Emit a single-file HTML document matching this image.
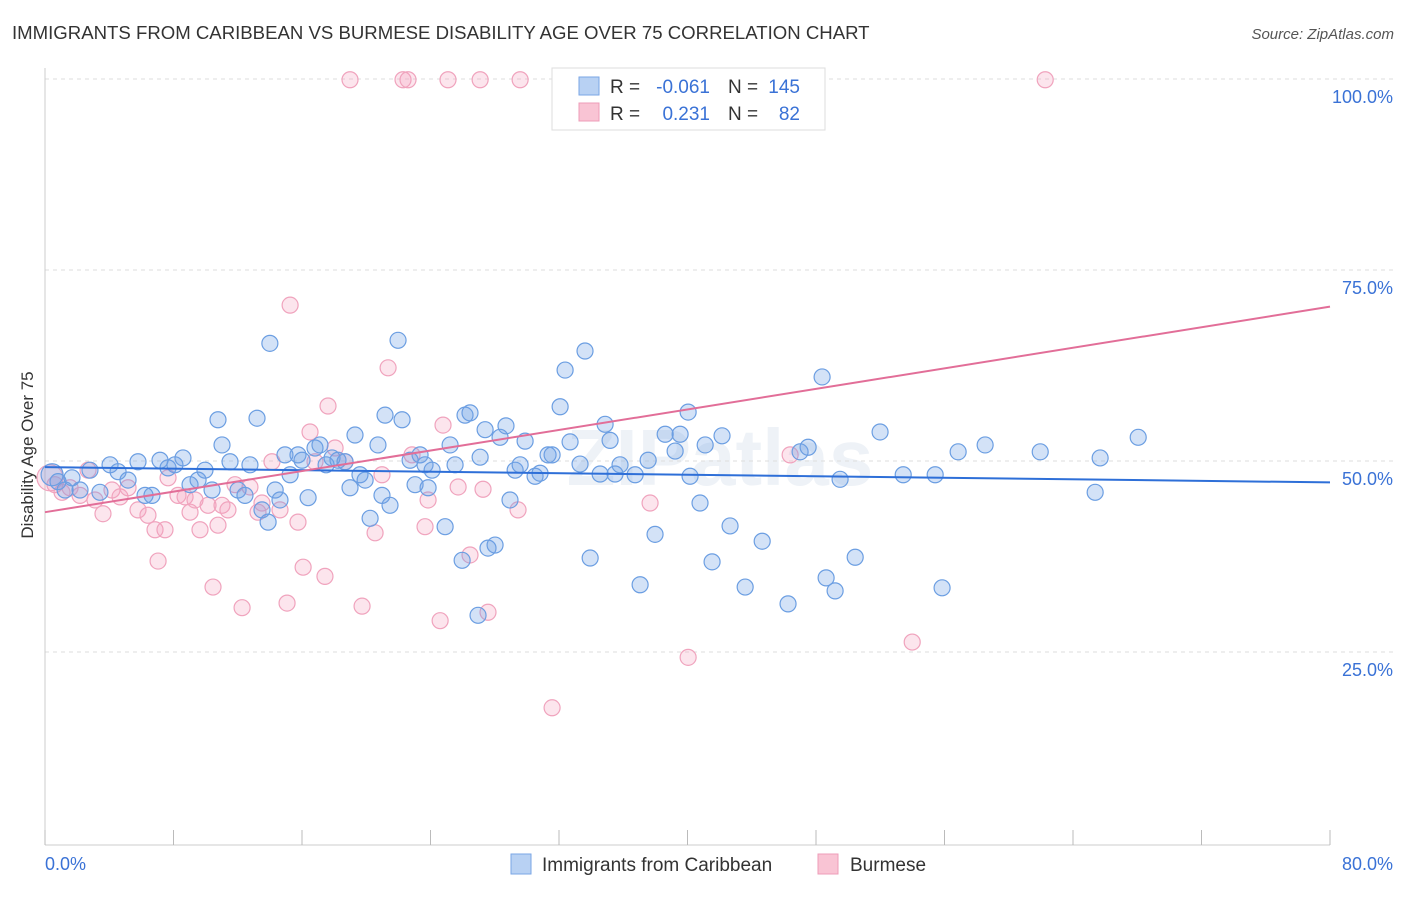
<!DOCTYPE html>
<html><head><meta charset="utf-8"><style>
body{margin:0;background:#fff;font-family:"Liberation Sans",sans-serif;}
svg text{font-family:"Liberation Sans",sans-serif;}
</style></head><body>
<svg id="chart" width="1406" height="892" viewBox="0 0 1406 892">
<text x="12" y="39" font-size="18.6" fill="#333">IMMIGRANTS FROM CARIBBEAN VS BURMESE DISABILITY AGE OVER 75 CORRELATION CHART</text>
<text x="1394" y="39" font-size="15" fill="#555" font-style="italic" text-anchor="end">Source: ZipAtlas.com</text>
<text x="720" y="485" font-size="80" fill="#eef2f7" text-anchor="middle" font-weight="bold">ZIPatlas</text>
<g id="grid"></g>
<g id="axes"></g>
<text transform="translate(33,455) rotate(-90)" font-size="17" fill="#333" text-anchor="middle">Disability Age Over 75</text>
<g id="pts"></g>
<g id="trends"></g>
<g>
<rect x="552" y="68" width="273" height="62" fill="#fff" stroke="#ddd"/>
<rect x="579" y="77" width="20" height="18" fill="#b8d1f3" stroke="#7aa6e6"/>
<rect x="579" y="103" width="20" height="18" fill="#f9c4d4" stroke="#ee9cb8"/>
<text x="610" y="93" font-size="19" fill="#333">R =</text>
<text x="710" y="93" font-size="19" fill="#3a72d6" text-anchor="end">-0.061</text>
<text x="728" y="93" font-size="19" fill="#333">N =</text>
<text x="800" y="93" font-size="19" fill="#3a72d6" text-anchor="end">145</text>
<text x="610" y="120" font-size="19" fill="#333">R =</text>
<text x="710" y="120" font-size="19" fill="#3a72d6" text-anchor="end">0.231</text>
<text x="728" y="120" font-size="19" fill="#333">N =</text>
<text x="800" y="120" font-size="19" fill="#3a72d6" text-anchor="end">82</text>
</g>
<g>
<rect x="511" y="854" width="20" height="20" fill="#b8d1f3" stroke="#7aa6e6"/>
<text x="542" y="871" font-size="19" fill="#333">Immigrants from Caribbean</text>
<rect x="818" y="854" width="20" height="20" fill="#f9c4d4" stroke="#ee9cb8"/>
<text x="850" y="871" font-size="19" fill="#333">Burmese</text>
</g>
</svg>
<script>
const blueX=[0.44,0.81,1.25,1.68,2.18,2.8,3.42,4.05,4.55,5.17,5.79,6.23,6.66,7.16,7.66,8.09,8.59,9.03,9.53,9.96,10.4,10.77,11.02,11.52,12.02,12.45,12.76,13.2,13.51,13.89,14.0,14.33,14.63,14.94,15.26,15.75,16.0,16.38,16.81,17.12,17.5,17.87,18.24,18.68,18.99,19.3,19.61,19.93,20.24,20.73,20.98,21.17,21.48,21.98,22.23,22.73,23.04,23.35,23.66,23.85,24.1,24.91,25.22,25.53,25.97,26.15,26.46,26.96,27.09,27.4,27.58,28.02,28.33,28.7,28.95,29.27,29.58,29.89,30.51,30.82,31.32,31.57,32.07,32.38,32.69,33.31,33.62,33.94,34.56,34.87,35.18,35.49,35.8,36.74,37.05,37.55,37.98,38.61,39.23,39.54,40.04,40.16,40.78,41.1,41.53,42.15,42.65,43.59,44.65,46.26,47.01,47.51,48.38,48.63,49.19,49.5,50.44,51.99,53.43,55.42,55.85,56.85,58.53,61.96,65.38,65.69,68.06];
const blueY=[48.2,47.3,46.2,47.8,46.2,48.8,45.9,49.5,48.6,47.5,49.9,45.5,45.5,50.1,49.1,49.5,50.4,46.9,47.5,48.8,46.2,55.4,52.1,49.9,46.2,45.5,49.5,55.6,43.6,42.0,65.4,46.2,44.9,50.8,48.2,50.8,50.1,45.2,51.7,52.1,49.5,50.4,50.1,49.9,46.5,53.4,48.2,47.5,42.5,52.1,45.5,56.0,44.2,65.8,55.4,50.1,46.9,50.8,49.5,46.5,48.8,41.4,52.1,49.5,37.0,56.0,56.3,29.8,50.5,54.1,38.6,39.0,53.1,54.6,44.9,48.8,49.5,52.6,48.0,48.4,50.8,50.8,57.1,61.9,52.5,49.6,64.4,37.3,48.3,54.8,52.7,48.3,49.5,48.2,33.8,50.1,40.4,53.5,51.3,53.5,56.4,48.0,44.5,52.1,36.8,53.3,41.5,33.5,39.5,31.3,51.2,51.8,61.0,34.7,33.0,47.6,37.4,53.8,48.2,48.2,33.4,51.2,52.1,51.2,45.9,50.4,53.1];
const pinkX=[0.31,0.62,1.06,1.56,2.18,2.68,3.11,3.61,4.17,4.67,5.17,5.79,6.41,6.85,7.04,7.47,7.66,8.28,8.72,9.03,9.34,9.65,10.15,10.46,10.77,11.02,11.39,11.83,12.27,12.76,13.26,13.51,14.13,14.63,15.07,15.26,15.75,16.07,16.5,16.81,17.43,17.62,18.06,18.68,18.99,19.74,20.55,20.98,21.36,22.29,22.6,22.85,23.66,23.85,24.6,24.78,25.09,25.72,26.46,27.09,27.27,27.58,29.45,29.58,31.57,37.67,40.04,46.39,53.99,62.27];
const pinkY=[47.8,46.9,45.9,46.5,45.5,48.8,44.9,43.1,46.2,45.3,46.5,43.6,42.9,41.0,36.9,41.0,47.8,45.5,45.3,43.3,44.9,41.0,44.2,33.5,41.6,44.2,43.6,46.9,30.8,46.6,43.3,44.5,49.9,43.6,31.4,70.4,42.0,36.1,53.8,49.9,34.9,57.2,51.7,49.9,99.9,31.0,40.6,48.2,62.2,99.9,99.9,50.8,41.4,44.9,29.1,54.7,99.9,46.6,37.7,99.9,46.3,30.2,43.6,99.9,17.7,44.5,24.3,50.8,26.3,99.9];
const blueTrend=[49.2,47.2];
const pinkTrend=[43.3,70.2];
const yTicks=[100,75,50,25];
const xTicks=[0,8,16,24,32,40,48,56,64,72,80];

const NS="http://www.w3.org/2000/svg";
const X0=45,X1=1330,Y0=843,Y100=79;
function sx(v){return X0+(X1-X0)*v/80;}
function sy(v){return Y0-(Y0-Y100)*v/100;}
function mk(tag,attrs,parent){const e=document.createElementNS(NS,tag);for(const k in attrs)e.setAttribute(k,attrs[k]);parent.appendChild(e);return e;}
const grid=document.getElementById('grid'),axes=document.getElementById('axes');
yTicks.forEach(t=>{
  const l=mk('line',{x1:X0,x2:1395,y1:sy(t),y2:sy(t),stroke:'#ddd','stroke-dasharray':'4,4'},grid);
  
  
  const tx=mk('text',{x:1393,y:sy(t)+24,'font-size':18,fill:'#3a72d6','text-anchor':'end'},axes);
  tx.textContent=t.toFixed(1)+'%';
  
  
});
const xl=mk('line',{x1:X0,x2:X1,y1:845,y2:845,stroke:'#ccc'},axes);


const yl=mk('line',{x1:X0,x2:X0,y1:68,y2:845,stroke:'#ccc'},axes);


xTicks.forEach(t=>{
  const l=mk('line',{x1:sx(t),x2:sx(t),y1:830,y2:845,stroke:'#bbb'},axes);
  
  
});
[[0,'start','0.0%',45],[80,'end','80.0%',1393]].forEach(a=>{
  const t=mk('text',{x:a[3],y:870,'font-size':18,fill:'#3a72d6','text-anchor':a[1]},axes);
  t.textContent=a[2];
  
  
});
const pts=document.getElementById('pts');
pinkX.forEach((x,i)=>{
  const c=mk('circle',{cx:sx(x),cy:sy(pinkY[i]),r:i===0?13:8,fill:'rgba(244,160,190,0.28)',stroke:'#f0a3bd','stroke-width':1.2},pts);
  
  
});
blueX.forEach((x,i)=>{
  const c=mk('circle',{cx:sx(x),cy:sy(blueY[i]),r:i===0?11:8,fill:'rgba(110,160,230,0.3)',stroke:'#6b9ee2','stroke-width':1.2},pts);
  
  
});
const tr=document.getElementById('trends');
const bl=mk('line',{x1:sx(0),y1:sy(blueTrend[0]),x2:sx(80),y2:sy(blueTrend[1]),stroke:'#2e6fd8','stroke-width':2},tr);


const pl=mk('line',{x1:sx(0),y1:sy(pinkTrend[0]),x2:sx(80),y2:sy(pinkTrend[1]),stroke:'#e26e98','stroke-width':2},tr);


</script>
</body></html>
